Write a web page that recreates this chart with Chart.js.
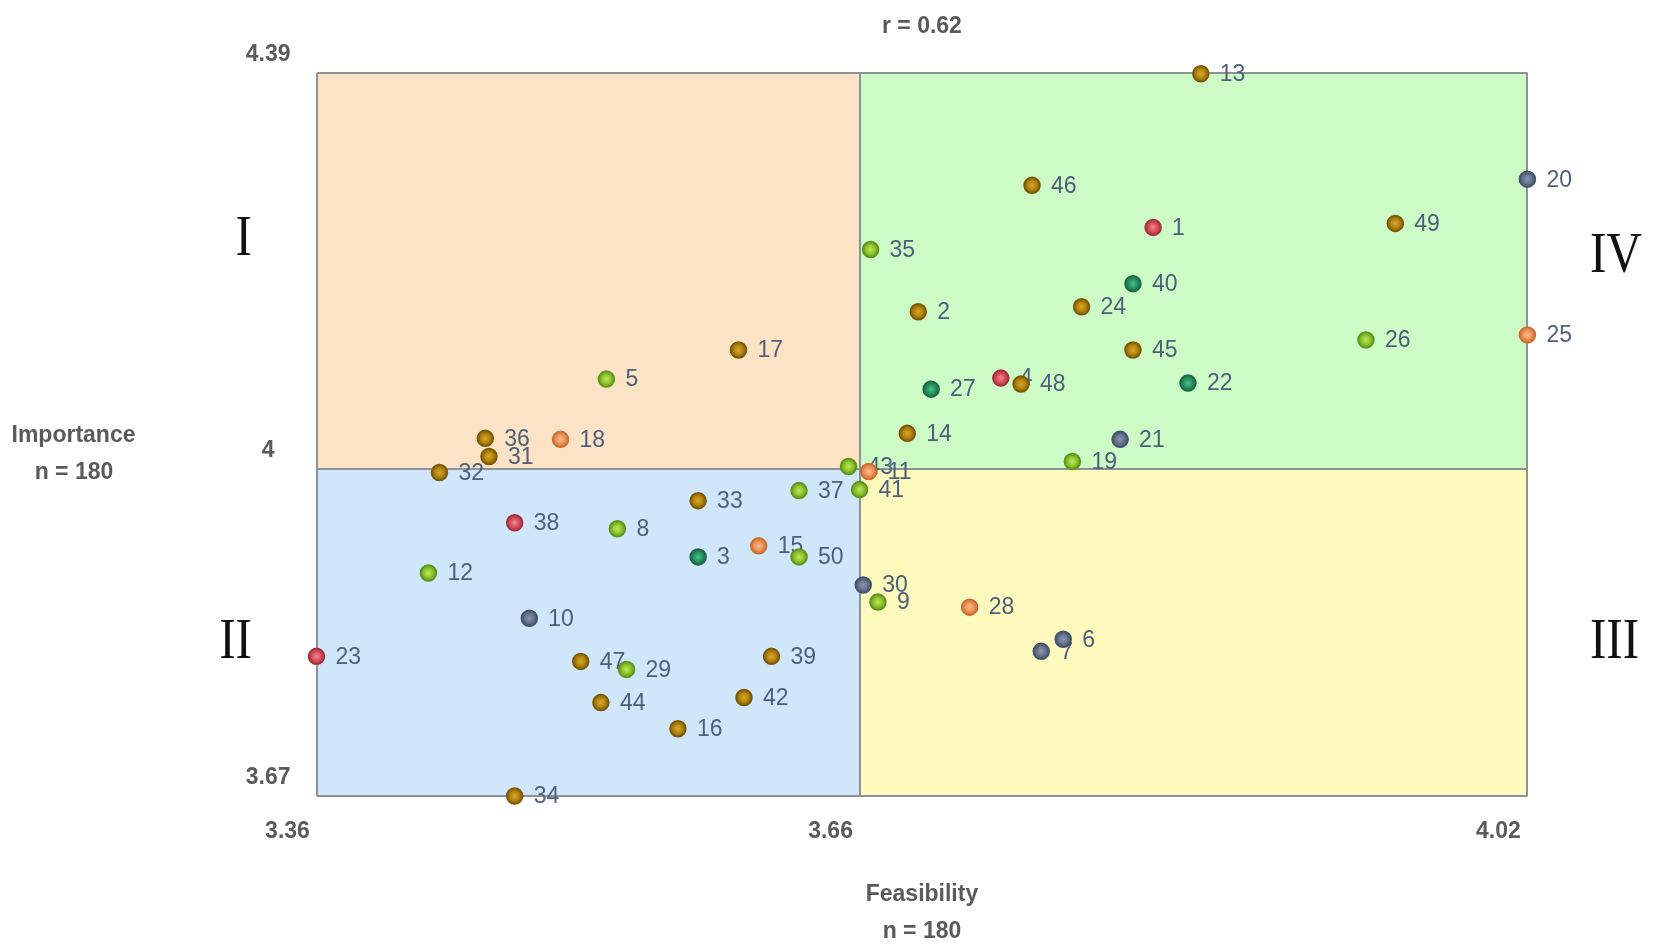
<!DOCTYPE html>
<html>
<head>
<meta charset="utf-8">
<script src="https://cdn.jsdelivr.net/npm/chart.js@4.4.1/dist/chart.umd.min.js"></script>
<style>
  html, body { margin: 0; padding: 0; background: #ffffff; }
  #wrap { width: 1654px; height: 952px; position: relative; }
</style>
</head>
<body>
<div id="wrap"><canvas id="chart"></canvas></div>
<script>
// ---------- data ----------
const ids = [1,2,3,4,5,6,7,8,9,10,11,12,13,14,15,16,17,18,19,20,21,22,23,24,25,26,27,28,29,30,31,32,33,34,35,36,37,38,39,40,41,42,43,44,45,46,47,48,49,50];
const feasibility = [3.816,3.688,3.568,3.733,3.518,3.767,3.755,3.524,3.666,3.476,
                     3.661,3.421,3.842,3.682,3.601,3.557,3.590,3.493,3.772,4.020,
                     3.798,3.835,3.360,3.777,4.020,3.932,3.695,3.716,3.529,3.658,
                     3.454,3.427,3.568,3.468,3.662,3.452,3.623,3.468,3.608,3.805,
                     3.656,3.593,3.650,3.515,3.805,3.750,3.504,3.744,3.948,3.623];
const importance  = [4.236,4.152,3.908,4.086,4.085,3.826,3.814,3.936,3.863,3.847,
                     3.993,3.892,4.389,4.031,3.919,3.737,4.114,4.025,4.003,4.284,
                     4.025,4.081,3.809,4.157,4.129,4.124,4.075,3.858,3.796,3.880,
                     4.008,3.992,3.964,3.670,4.214,4.026,3.974,3.942,3.809,4.180,
                     3.975,3.768,3.998,3.763,4.114,4.278,3.804,4.080,4.240,3.908];
const groups = ['red','gold','teal','red','lime','slate','slate','lime','lime','slate',
                'orange','lime','gold','gold','orange','gold','gold','orange','lime','slate',
                'slate','teal','red','gold','orange','lime','teal','orange','lime','slate',
                'gold','gold','gold','gold','lime','gold','lime','red','gold','teal',
                'lime','gold','lime','gold','gold','gold','gold','gold','gold','lime'];
const xBounds = [3.36, 3.656, 4.02];   // min, mean, max feasibility
const yBounds = [3.67, 3.996, 4.39];   // min, mean, max importance
const xTickLabels = ['3.36', '3.66', '4.02'];
const yTickLabels = ['3.67', '4', '4.39'];
const quadrantNames = ['I', 'II', 'III', 'IV'];
const correlationText = 'r = 0.62';
const xTitle = ['Feasibility', 'n = 180'];
const yTitle = ['Importance', 'n = 180'];

// ---------- styles ----------
const lightColors = { gold:'#d9a630', red:'#ef8a92', lime:'#bfe860', teal:'#4cc08a', slate:'#8a98b2', orange:'#fbbe8c' };
const fillColors  = { gold:'#b5860f', red:'#d9505d', lime:'#92c52e', teal:'#279464', slate:'#66748f', orange:'#ee935a' };
const edgeColors  = { gold:'#7a5806', red:'#a3303b', lime:'#5b951a', teal:'#1b6644', slate:'#44516b', orange:'#c96e32' };
const quadColors = { I:'#fde3c6', II:'#cfe6fb', III:'#fefabd', IV:'#cdfbc6' };
const textGrey = '#5a5a5a';
const labelColor = '#4e5f7a';

const points = ids.map((id, i) => ({ x: feasibility[i], y: importance[i], id: id }));

function pointFill(context) {
  const chart = context.chart;
  const g = groups[context.dataIndex];
  const sx = chart.scales.x, sy = chart.scales.y;
  if (!sx || !sy || !context.parsed) return fillColors[g];
  const px = sx.getPixelForValue(context.parsed.x);
  const py = sy.getPixelForValue(context.parsed.y);
  if (!isFinite(px) || !isFinite(py)) return fillColors[g];
  const grad = chart.ctx.createRadialGradient(px, py, 0, px, py, 8);
  grad.addColorStop(0, lightColors[g]);
  grad.addColorStop(0.55, fillColors[g]);
  grad.addColorStop(1, edgeColors[g]);
  return grad;
}

const quadrantPlugin = {
  id: 'quadrants',
  beforeDraw(chart) {
    const { ctx, chartArea: a, scales: { x, y } } = chart;
    const mx = x.getPixelForValue(xBounds[1]);
    const my = y.getPixelForValue(yBounds[1]);
    ctx.save();
    ctx.fillStyle = '#ffffff';
    ctx.fillRect(0, 0, chart.width, chart.height);
    ctx.fillStyle = quadColors.I;   ctx.fillRect(a.left, a.top, mx - a.left, my - a.top);
    ctx.fillStyle = quadColors.IV;  ctx.fillRect(mx, a.top, a.right - mx, my - a.top);
    ctx.fillStyle = quadColors.II;  ctx.fillRect(a.left, my, mx - a.left, a.bottom - my);
    ctx.fillStyle = quadColors.III; ctx.fillRect(mx, my, a.right - mx, a.bottom - my);
    ctx.restore();
  },
  beforeDatasetsDraw(chart) {
    const { ctx } = chart;
    const meta = chart.getDatasetMeta(0);
    ctx.save();
    ctx.font = '23px "Liberation Sans", Arial, sans-serif';
    ctx.fillStyle = labelColor;
    ctx.textAlign = 'left';
    ctx.textBaseline = 'middle';
    meta.data.forEach((el, i) => {
      ctx.fillText(String(ids[i]), el.x + 19, el.y + 1);
    });
    ctx.restore();
  },
  afterDraw(chart) {
    const { ctx, chartArea: a } = chart;
    const cx = (a.left + a.right) / 2;
    ctx.save();
    ctx.fillStyle = textGrey;
    ctx.font = 'bold 23px "Liberation Sans", Arial, sans-serif';
    ctx.textAlign = 'center';
    ctx.textBaseline = 'alphabetic';
    ctx.fillText(correlationText, cx, a.top - 39.5);
    ctx.fillText(xTitle[0], cx, a.bottom + 105);
    ctx.fillText(xTitle[1], cx, a.bottom + 141.5);
    ctx.fillText(yTitle[0], a.left - 243, 442.3);
    ctx.fillText(yTitle[1], a.left - 242.5, 479.3);

    // roman quadrant numerals
    ctx.fillStyle = '#111111';
    ctx.font = '56px "Liberation Serif", "Times New Roman", serif';
    const drawNum = (txt, x, y, align) => {
      ctx.save();
      ctx.translate(x, y);
      ctx.scale(0.88, 1);
      ctx.textAlign = align;
      ctx.fillText(txt, 0, 0);
      ctx.restore();
    };
    drawNum(quadrantNames[0], a.left - 64.5, a.top + 182.3, 'right');
    drawNum(quadrantNames[1], a.left - 64.5, a.bottom - 138.3, 'right');
    drawNum(quadrantNames[2], a.right + 62.5, a.bottom - 138.3, 'left');
    drawNum(quadrantNames[3], a.right + 62.5, a.top + 199, 'left');
    ctx.restore();
  }
};

const tickFont = { family: '"Liberation Sans", Arial, sans-serif', size: 23, weight: 'bold' };
const gridStyle = { color: '#8c9298', lineWidth: 2, drawTicks: false };

new Chart(document.getElementById('chart'), {
  type: 'scatter',
  data: {
    datasets: [{
      label: 'Items',
      data: points,
      backgroundColor: pointFill,
      borderColor: groups.map(g => edgeColors[g]),
      borderWidth: 1.5,
      pointRadius: 8,
      pointHoverRadius: 8,
      clip: false
    }]
  },
  options: {
    responsive: true,
    maintainAspectRatio: false,
    animation: false,
    events: [],
    layout: { padding: { left: 0, right: 126.6, top: 72.7, bottom: 0 } },
    plugins: { legend: { display: false }, tooltip: { enabled: false }, title: { display: false } },
    scales: {
      x: {
        type: 'linear',
        min: xBounds[0],
        max: xBounds[2],
        afterBuildTicks: s => { s.ticks = xBounds.map(v => ({ value: v })); },
        afterFit: s => { s.height = 156; },
        ticks: {
          autoSkip: false, maxRotation: 0, minRotation: 0,
          callback: (v, i) => xTickLabels[i],
          labelOffset: -29, padding: 22,
          font: tickFont, color: textGrey
        },
        grid: gridStyle,
        border: { display: false }
      },
      y: {
        type: 'linear',
        min: yBounds[0],
        max: yBounds[2],
        afterBuildTicks: s => { s.ticks = yBounds.map(v => ({ value: v })); },
        afterFit: s => { s.width = 316.5; },
        ticks: {
          autoSkip: false,
          callback: (v, i) => yTickLabels[i],
          crossAlign: 'center',
          labelOffset: -18, padding: 26,
          font: tickFont, color: textGrey
        },
        grid: gridStyle,
        border: { display: false }
      }
    }
  },
  plugins: [quadrantPlugin]
});
</script>
</body>
</html>
